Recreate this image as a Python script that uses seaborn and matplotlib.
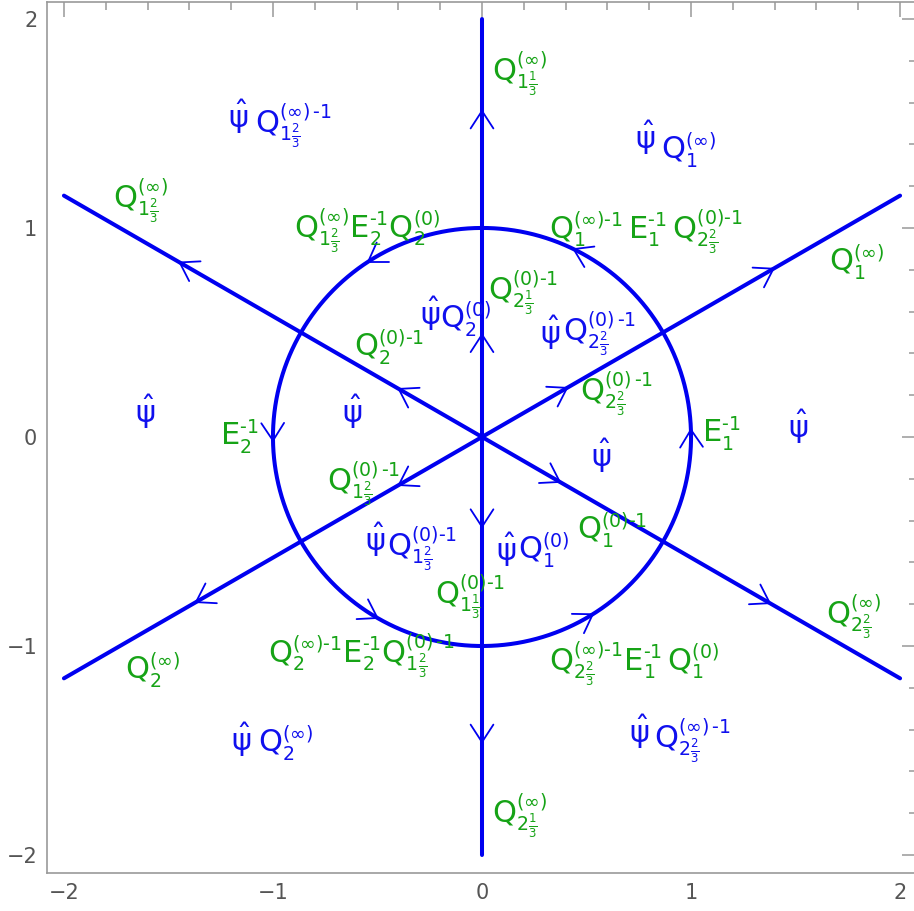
import numpy as np
import pandas as pd
import matplotlib
matplotlib.use("Agg")
import matplotlib.pyplot as plt
import matplotlib._mathtext as mathtext_engine
from matplotlib.ticker import MultipleLocator
import seaborn as sns

# Rays from the origin (degrees) and the unit circle
ray_angles = [30, 90, 150, 210, 270, 330]
ray_inner_arrow = [0.47, 0.49, 0.46, 0.46, 0.43, 0.43]   # arrow tip radius (inner)
ray_outer_arrow = [1.61, 1.56, 1.67, 1.58, 1.46, 1.59]   # arrow tip radius (outer)
circle_radius = 1.0
circle_arrow_angles = [2, 64, 123, 181, 240, 302]        # counter-clockwise arrows
box_half = 2.0                                            # rays stop at |x|=2 or |y|=2

# Stand-alone psi-hat markers (centre x, centre y)
psi_x = [-1.61, -0.62, 0.57, 1.51]
psi_y = [0.12, 0.12, -0.09, 0.05]

# Blue labels: psi-hat centre, then the Q factor (left x, baseline y, text)
blue_psi_x = [-1.167, 0.78, -0.25, 0.325, -0.51, 0.115, -1.153, 0.75]
blue_psi_y = [1.53, 1.43, 0.59, 0.50, -0.49, -0.54, -1.45, -1.41]
blue_q_x = [-1.086, 0.856, -0.20, 0.388, -0.455, 0.172, -1.072, 0.823]
blue_q_y = [1.455, 1.325, 0.52, 0.464, -0.565, -0.589, -1.512, -1.483]
blue_q_text = [
    r"$Q_{1\frac{2}{3}}^{(\infty)\,‐1}$",
    r"$Q_{1}^{(\infty)}$",
    r"$Q_{2}^{(0)}$",
    r"$Q_{2\frac{2}{3}}^{(0)\,‐1}$",
    r"$Q_{1\frac{2}{3}}^{(0)‐1}$",
    r"$Q_{1}^{(0)}$",
    r"$Q_{2}^{(\infty)}$",
    r"$Q_{2\frac{2}{3}}^{(\infty)\,‐1}$",
]

# Green labels: left x, baseline y, text
green_x = [0.048, -1.765, -0.90, 0.32, 1.66, 0.03, -0.61, 0.47, -1.254, 1.053,
           -0.74, 0.455, -0.225, -1.024, 0.32, 1.646, -1.708, 0.048]
green_y = [1.708, 1.096, 0.957, 0.952, 0.79, 0.656, 0.383, 0.177, -0.038, -0.024,
           -0.254, -0.493, -0.794, -1.077, -1.115, -0.89, -1.163, -1.842]
green_text = [
    r"$Q_{1\frac{1}{3}}^{(\infty)}$",
    r"$Q_{1\frac{2}{3}}^{(\infty)}$",
    r"$Q_{1\frac{2}{3}}^{(\infty)}E_{2}^{‐1}Q_{2}^{(0)}$",
    r"$Q_{1}^{(\infty)‐1}\,E_{1}^{‐1}\,Q_{2\frac{2}{3}}^{(0)‐1}$",
    r"$Q_{1}^{(\infty)}$",
    r"$Q_{2\frac{1}{3}}^{(0)‐1}$",
    r"$Q_{2}^{(0)‐1}$",
    r"$Q_{2\frac{2}{3}}^{(0)\,‐1}$",
    r"$E_{2}^{‐1}$",
    r"$E_{1}^{‐1}$",
    r"$Q_{1\frac{2}{3}}^{(0)\,‐1}$",
    r"$Q_{1}^{(0)‐1}$",
    r"$Q_{1\frac{1}{3}}^{(0)‐1}$",
    r"$Q_{2}^{(\infty)‐1}E_{2}^{‐1}Q_{1\frac{2}{3}}^{(0)\,‐1}$",
    r"$Q_{2\frac{2}{3}}^{(\infty)‐1}E_{1}^{‐1}\,Q_{1}^{(0)}$",
    r"$Q_{2\frac{2}{3}}^{(\infty)}$",
    r"$Q_{2}^{(\infty)}$",
    r"$Q_{2\frac{1}{3}}^{(\infty)}$",
]

LINE_BLUE = "#0000f0"
LABEL_BLUE = "#1010ee"
LABEL_GREEN = "#16a316"
LABEL_SIZE = 22
PSI_SIZE = 22

sns.set_theme(style="white")
plt.rcParams["font.family"] = ["DejaVu Sans"]
plt.rcParams["mathtext.fontset"] = "custom"
plt.rcParams["mathtext.rm"] = "DejaVu Sans"
plt.rcParams["mathtext.it"] = "DejaVu Sans"
plt.rcParams["mathtext.default"] = "regular"
# smaller indices relative to the main letters
mathtext_engine.SHRINK_FACTOR = 0.62

# Build curve table: six rays plus the circle
rows = []
for k, a in enumerate(ray_angles):
    t = np.deg2rad(a)
    d = np.array([np.cos(t), np.sin(t)])
    r_end = box_half / max(abs(d[0]), abs(d[1]))
    for r in (0.0, r_end):
        rows.append({"curve": f"ray{k}", "x": r * d[0], "y": r * d[1]})
theta = np.linspace(0, 2 * np.pi, 400)
for th in theta:
    rows.append({"curve": "circle", "x": circle_radius * np.cos(th),
                 "y": circle_radius * np.sin(th)})
curves = pd.DataFrame(rows)

fig = plt.figure(figsize=(9.14, 9.11), dpi=100)
ax = fig.add_axes([47 / 914, 1 - 873 / 911, 870 / 914, 871 / 911])

sns.lineplot(data=curves, x="x", y="y", units="curve", estimator=None,
             sort=False, color=LINE_BLUE, lw=2.9, ax=ax, legend=False)

# Open V-shaped arrowheads
arm = 0.10
half_angle = np.deg2rad(33)


def arrowhead(tip, direction):
    d = np.asarray(direction, float)
    d /= np.hypot(*d)
    back = -d
    for s in (+1, -1):
        c, sn = np.cos(s * half_angle), np.sin(s * half_angle)
        v = np.array([c * back[0] - sn * back[1], sn * back[0] + c * back[1]])
        ax.plot([tip[0], tip[0] + arm * v[0]], [tip[1], tip[1] + arm * v[1]],
                color=LINE_BLUE, lw=1.3, solid_capstyle="round")


for a, ri, ro in zip(ray_angles, ray_inner_arrow, ray_outer_arrow):
    t = np.deg2rad(a)
    d = (np.cos(t), np.sin(t))
    for r in (ri, ro):
        arrowhead((r * d[0], r * d[1]), d)

for a in circle_arrow_angles:
    t = np.deg2rad(a)
    tip = (circle_radius * np.cos(t), circle_radius * np.sin(t))
    arrowhead(tip, (-np.sin(t), np.cos(t)))

# Labels
for x, y in zip(psi_x + blue_psi_x, psi_y + blue_psi_y):
    ax.text(x, y, r"$\hat{\psi}$", color=LABEL_BLUE, fontsize=PSI_SIZE,
            ha="center", va="center")
for x, y, s in zip(blue_q_x, blue_q_y, blue_q_text):
    ax.text(x, y, s, color=LABEL_BLUE, fontsize=LABEL_SIZE,
            ha="left", va="baseline")
for x, y, s in zip(green_x, green_y, green_text):
    ax.text(x, y, s, color=LABEL_GREEN, fontsize=LABEL_SIZE,
            ha="left", va="baseline")

ax.set_xlim(-2.081, 2.081)
ax.set_ylim(-2.086, 2.081)
ax.set_xlabel("")
ax.set_ylabel("")
ax.xaxis.set_major_locator(MultipleLocator(1))
ax.yaxis.set_major_locator(MultipleLocator(1))
ax.xaxis.set_minor_locator(MultipleLocator(0.2))
ax.yaxis.set_minor_locator(MultipleLocator(0.2))
ax.tick_params(which="both", direction="in", top=True, right=True,
               labeltop=False, labelright=False, color="#999999", width=1.1)
ax.tick_params(which="major", length=11, labelsize=15, labelcolor="#555555", pad=7)
ax.tick_params(which="minor", length=6)
for sp in ax.spines.values():
    sp.set_color("#999999")
    sp.set_linewidth(1.2)

fig.savefig("out.png", dpi=100)
